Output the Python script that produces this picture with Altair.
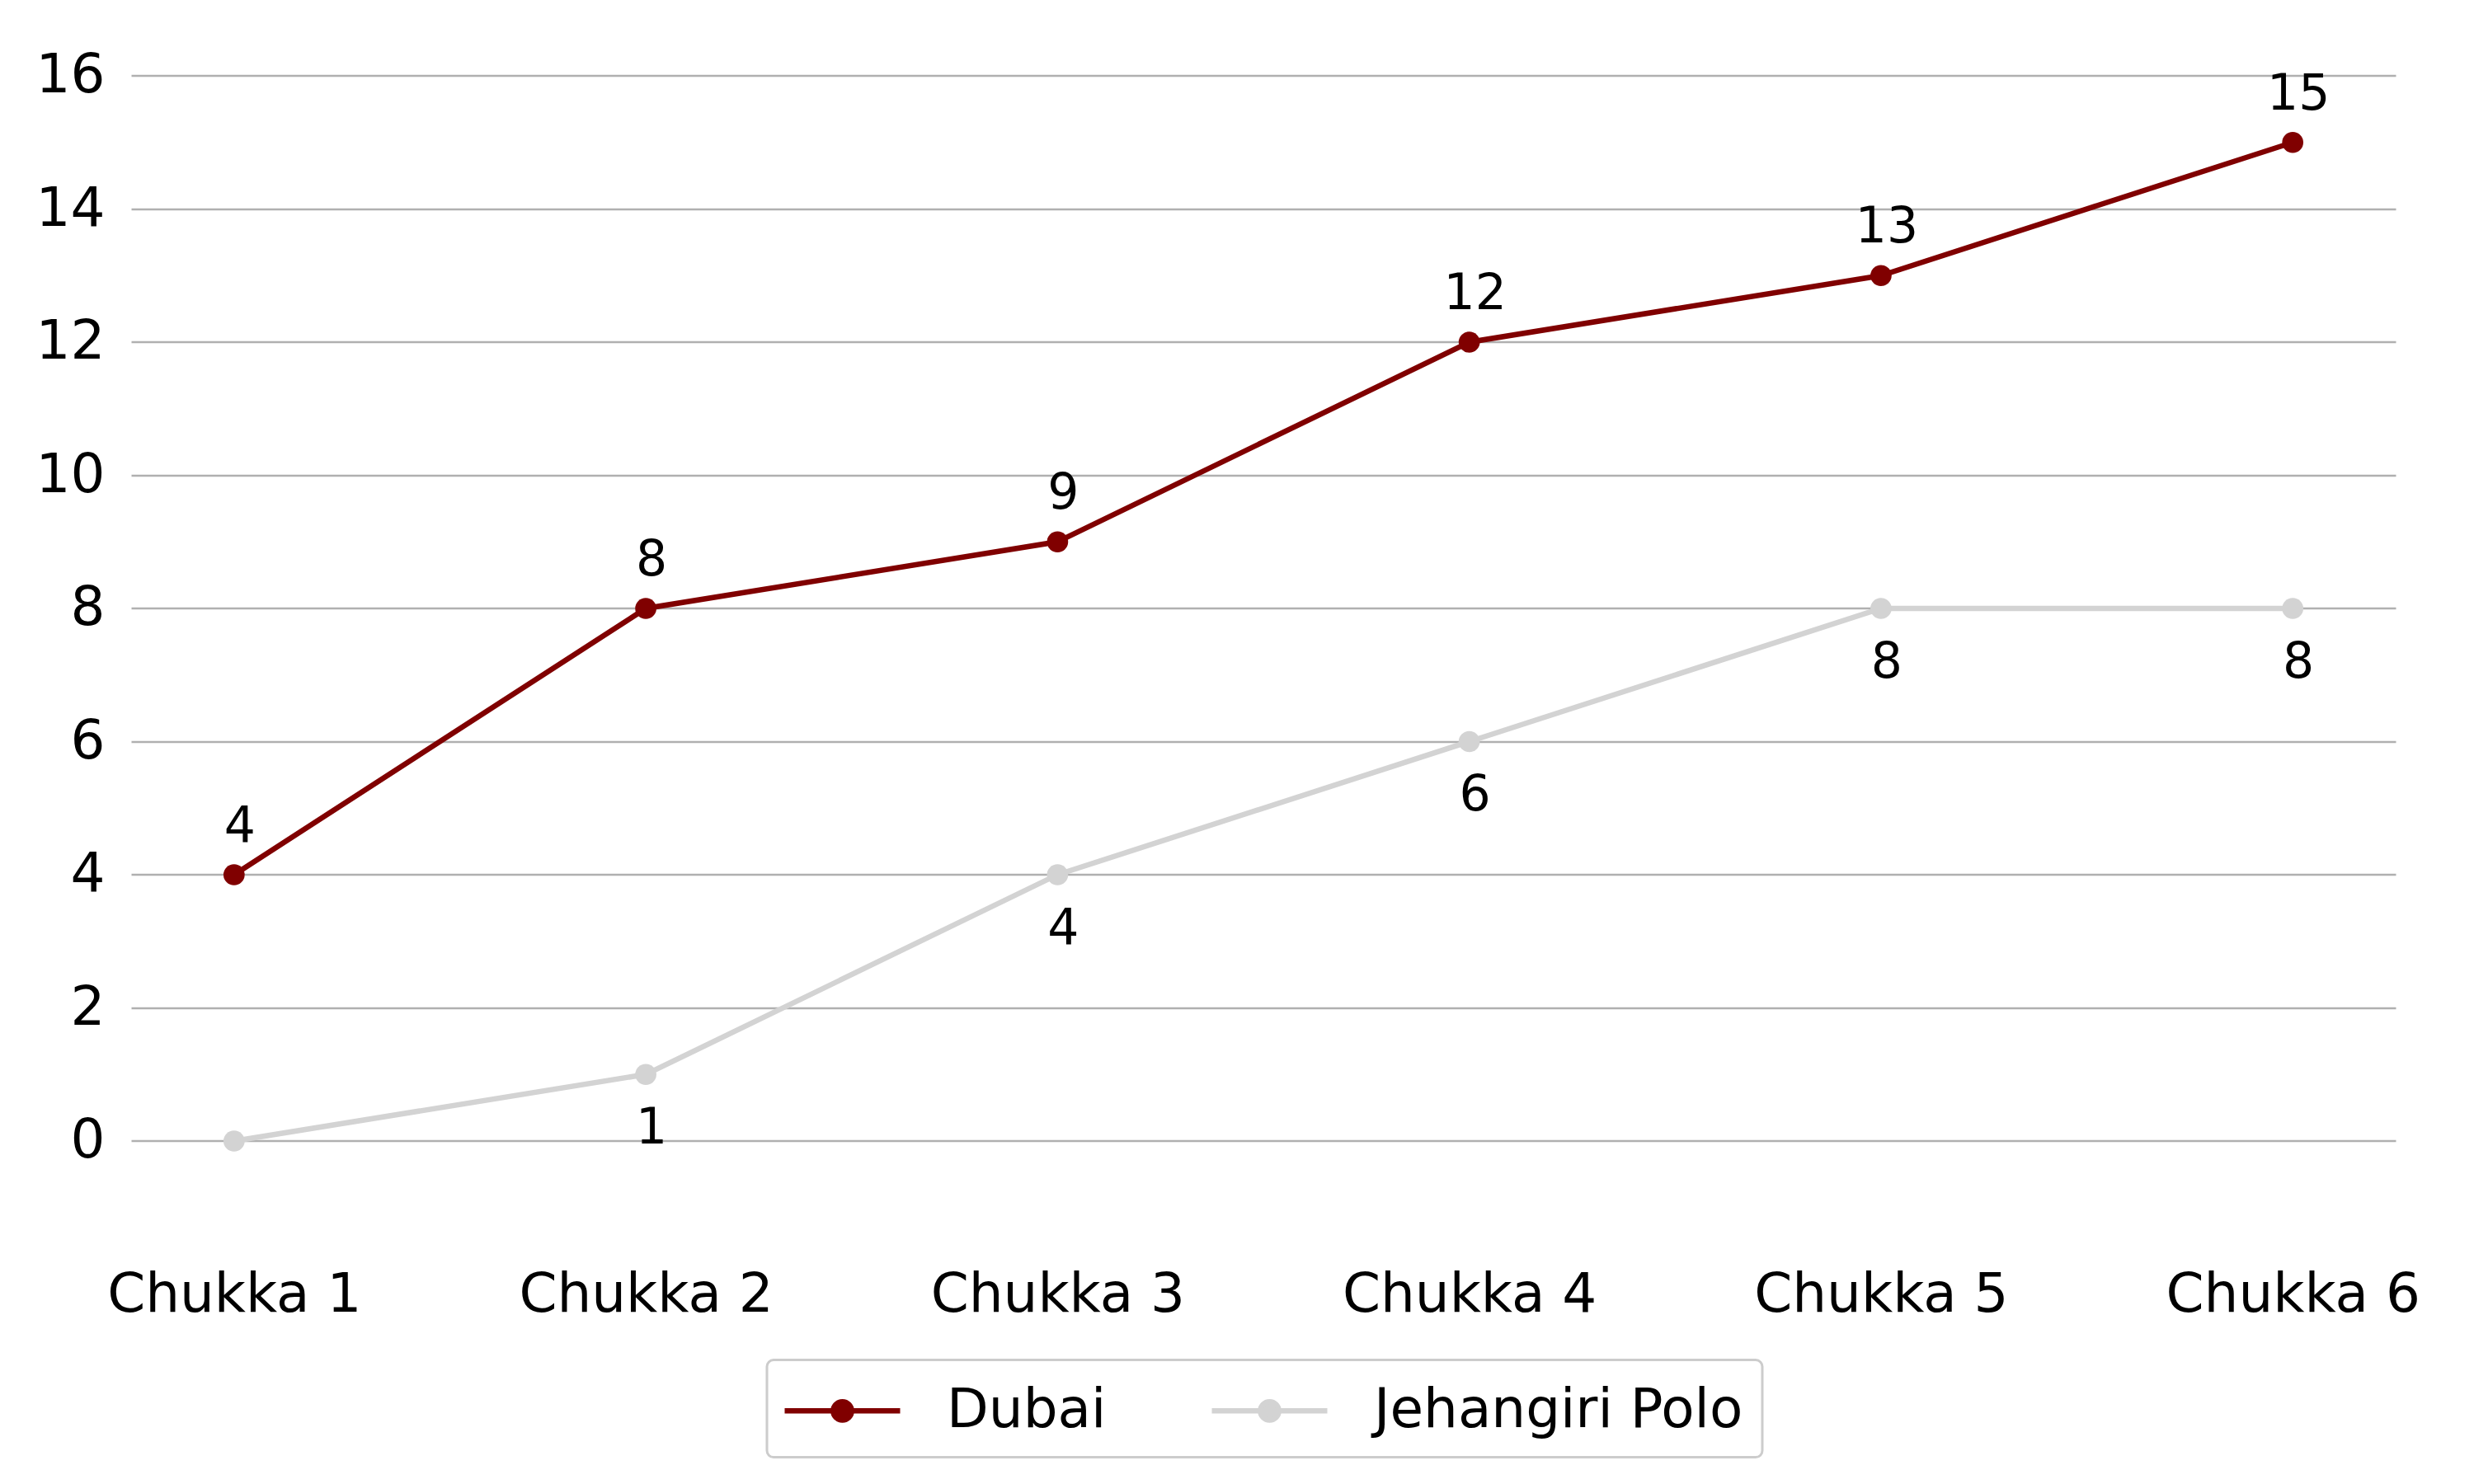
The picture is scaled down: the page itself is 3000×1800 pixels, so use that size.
import pandas as pd
import altair as alt

chukkas = ["Chukka 1", "Chukka 2", "Chukka 3", "Chukka 4", "Chukka 5", "Chukka 6"]
dubai = [4, 8, 9, 12, 13, 15]
jehangiri = [0, 1, 4, 6, 8, 8]
teams = ["Dubai", "Jehangiri Polo"]
team_colors = ["#800000", "#d3d3d3"]
y_ticks = [0, 2, 4, 6, 8, 10, 12, 14, 16]

df = pd.DataFrame(
    {
        "chukka": chukkas * 2,
        "team": [teams[0]] * len(dubai) + [teams[1]] * len(jehangiri),
        "goals": dubai + jehangiri,
    }
)

# line with a dot in the middle; drawn past the unit square so the
# entry stays short while the line stays long
legend_symbol = (
    "M-2,0H2M-0.32,0a0.32,0.32 0 1,0 0.64,0a0.32,0.32 0 1,0 -0.64,0"
)

legend = alt.Legend(
    title=None,
    orient="none",
    legendX=771,
    legendY=1598,
    direction="horizontal",
    columns=2,
    columnPadding=114,
    symbolType=legend_symbol,
    symbolSize=4900,
    symbolStrokeWidth=6.5,
    symbolOffset=30,
    labelOffset=88,
    labelFontSize=66,
    labelFont="DejaVu Sans",
    labelColor="black",
    labelLimit=0,
    padding=23,
    strokeColor="#cccccc",
    fillColor="white",
    cornerRadius=8,
)

x = alt.X(
    "chukka:N",
    sort=chukkas,
    scale=alt.Scale(type="point", padding=0.25),
    axis=alt.Axis(
        title=None,
        grid=False,
        domain=False,
        ticks=False,
        tickSize=0,
        labelAngle=0,
        labelPadding=33,
        labelFontSize=66,
        labelFont="DejaVu Sans",
        labelColor="black",
        labelLimit=0,
    ),
)
y = alt.Y(
    "goals:Q",
    scale=alt.Scale(domain=[-1.5, 16.5], nice=False, zero=False),
    axis=alt.Axis(
        title=None,
        values=y_ticks,
        grid=True,
        gridColor="#b0b0b0",
        gridWidth=2.5,
        domain=False,
        ticks=False,
        tickSize=0,
        labelPadding=32,
        labelFontSize=66,
        labelFont="DejaVu Sans",
        labelColor="black",
    ),
)
color = alt.Color(
    "team:N",
    scale=alt.Scale(domain=teams, range=team_colors),
    legend=legend,
)

base = alt.Chart(df).encode(x=x, y=y)

lines = base.mark_line(strokeWidth=6.5).encode(color=color)
dots = base.mark_circle(size=660, opacity=1).encode(color=color)

# zero values carry no label
labels_top = (
    base.mark_text(fontSize=60, font="DejaVu Sans", color="black", dx=7, dy=-40, baseline="alphabetic")
    .encode(text="goals:Q")
    .transform_filter((alt.datum.team == teams[0]) & (alt.datum.goals > 0))
)
labels_bottom = (
    base.mark_text(fontSize=60, font="DejaVu Sans", color="black", dx=7, dy=84, baseline="alphabetic")
    .encode(text="goals:Q")
    .transform_filter((alt.datum.team == teams[1]) & (alt.datum.goals > 0))
)

chart = (
    alt.layer(lines, dots, labels_top, labels_bottom)
    .properties(
        width=2746,
        height=1453.5,
        autosize=alt.AutoSizeParams(type="none"),
        padding={"left": 151, "top": 43.6, "right": 87, "bottom": 286},
    )
    .configure_view(stroke=None)
    .configure_legend(strokeWidth=3)
)

chart.save("out.html", embed_options={"renderer": "svg", "actions": False})
